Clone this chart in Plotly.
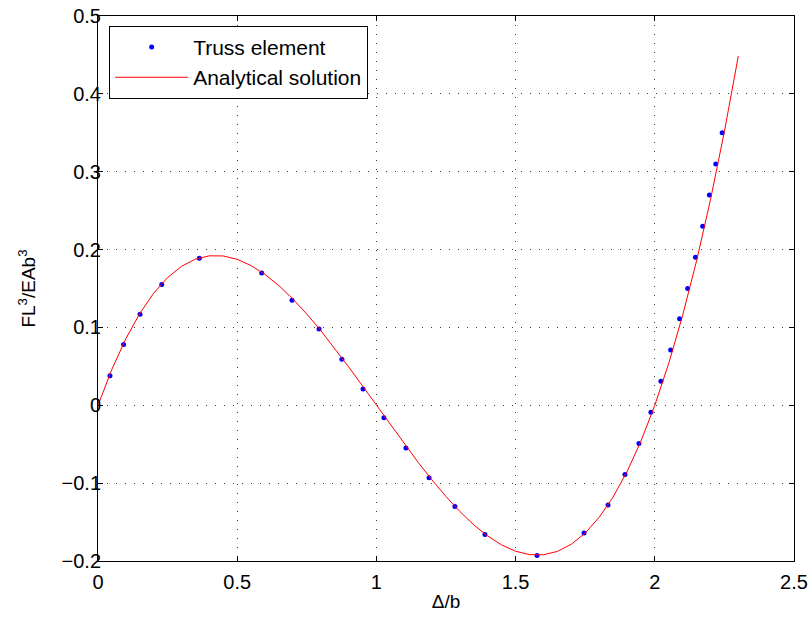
import plotly.graph_objects as go

# Truss element results
truss_x = [0.043, 0.092, 0.151, 0.229, 0.364, 0.588, 0.697, 0.794, 0.876, 0.952,
           1.027, 1.106, 1.189, 1.282, 1.390, 1.577, 1.746, 1.832, 1.893, 1.943,
           1.986, 2.022, 2.057, 2.089, 2.118, 2.146, 2.172, 2.196, 2.219, 2.242]
truss_y = [0.038, 0.078, 0.117, 0.155, 0.189, 0.170, 0.135, 0.098, 0.059, 0.021,
           -0.016, -0.055, -0.093, -0.130, -0.166, -0.193, -0.164, -0.128, -0.089, -0.049,
           -0.009, 0.031, 0.071, 0.111, 0.150, 0.190, 0.230, 0.270, 0.310, 0.350]

# Analytical solution
ana_x = [0.0, 0.05, 0.1, 0.15, 0.2, 0.25, 0.3, 0.35, 0.4, 0.45, 0.5, 0.55,
         0.6, 0.65, 0.7, 0.75, 0.8, 0.85, 0.9, 0.95, 1.0, 1.05, 1.1, 1.15,
         1.2, 1.25, 1.3, 1.35, 1.4, 1.45, 1.5, 1.55, 1.6, 1.65, 1.7, 1.75,
         1.8, 1.85, 1.9, 1.95, 2.0, 2.05, 2.1, 2.15, 2.2, 2.25, 2.3]
ana_y = [0.0, 0.0463, 0.0855, 0.1179, 0.144, 0.1641, 0.1785, 0.1877, 0.192, 0.1918, 0.1875, 0.1794,
         0.168, 0.1536, 0.1365, 0.1172, 0.096, 0.0733, 0.0495, 0.0249, 0.0, -0.0249, -0.0495, -0.0733,
         -0.096, -0.1172, -0.1365, -0.1536, -0.168, -0.1794, -0.1875, -0.1918, -0.192, -0.1877, -0.1785, -0.1641,
         -0.144, -0.1179, -0.0855, -0.0463, 0.0, 0.0538, 0.1155, 0.1854, 0.264, 0.3516, 0.4485]

x_ticks = [0, 0.5, 1, 1.5, 2, 2.5]
x_ticklabels = ["0", "0.5", "1", "1.5", "2", "2.5"]
y_ticks = [-0.2, -0.1, 0, 0.1, 0.2, 0.3, 0.4, 0.5]
y_ticklabels = ["\u22120.2", "\u22120.1", "0", "0.1", "0.2", "0.3", "0.4", "0.5"]

FONT = "Liberation Sans, Arial, Helvetica, sans-serif"

fig = go.Figure()
fig.add_trace(go.Scatter(x=truss_x, y=truss_y, mode="markers", name="Truss element",
                         marker=dict(color="#0000ff", size=5)))
fig.add_trace(go.Scatter(x=ana_x, y=ana_y, mode="lines", name="Analytical solution",
                         line=dict(color="#ff0000", width=1)))

axis_common = dict(
    showline=True, linecolor="black", linewidth=1, mirror="ticks",
    ticks="inside", ticklen=5, tickcolor="black", automargin=False,
    showgrid=True, gridcolor="rgba(0,0,0,0.75)", gridwidth=1, griddash="1px,8px",
    zeroline=False, tickfont=dict(family=FONT, size=20, color="black"),
)

fig.update_xaxes(range=[0, 2.5], tickvals=x_ticks, ticktext=x_ticklabels,
                 ticklabelstandoff=3,
                 title=dict(text="\u0394/b", font=dict(family=FONT, size=19, color="black"), standoff=2),
                 **axis_common)
fig.update_yaxes(range=[-0.2, 0.5], tickvals=y_ticks, ticktext=y_ticklabels,
                 ticklabelstandoff=-8,
                 title=dict(text="FL<sup>3</sup>/EAb<sup>3</sup>", font=dict(family=FONT, size=19, color="black"), standoff=20),
                 **axis_common)

fig.update_layout(
    width=809, height=618,
    margin=dict(l=98, r=15, t=16, b=57),
    plot_bgcolor="white", paper_bgcolor="white",
    font=dict(family=FONT, size=19, color="black"),
    legend=dict(x=0.016, y=0.982, xanchor="left", yanchor="top",
                bgcolor="white", bordercolor="black", borderwidth=1,
                font=dict(family=FONT, size=21, color="black"),
                itemwidth=73, tracegroupgap=0),
    showlegend=True,
)

fig.write_html("out.html")
